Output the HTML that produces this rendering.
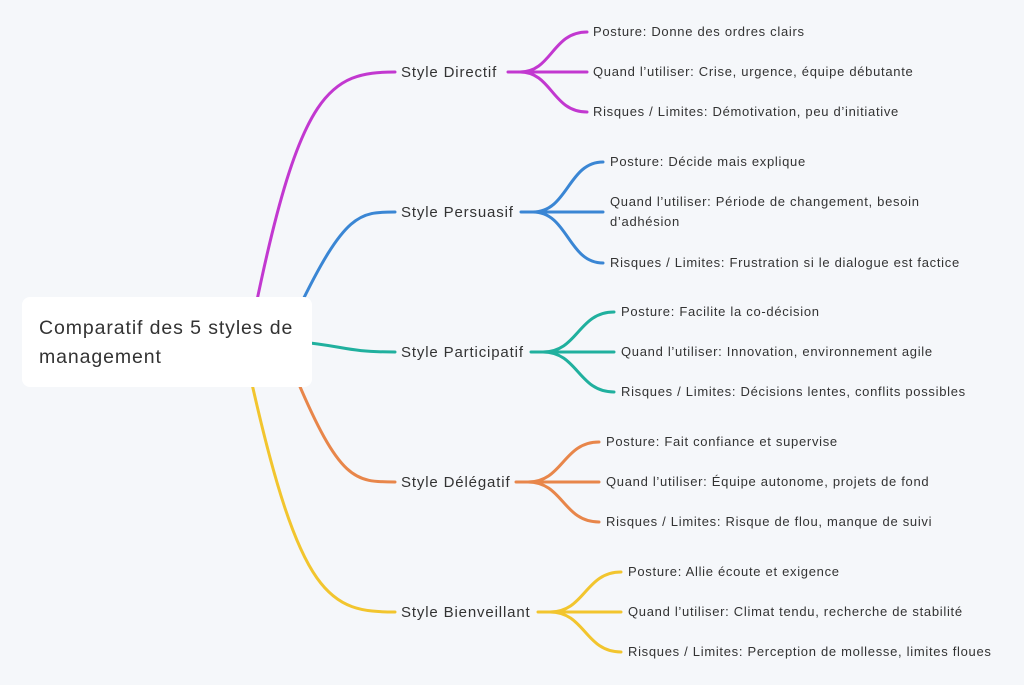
<!DOCTYPE html>
<html><head><meta charset="utf-8"><style>
html,body{margin:0;padding:0;background:#f5f7fa;}
body{width:1024px;height:685px;position:relative;overflow:hidden;font-family:"Liberation Sans","DejaVu Sans",sans-serif;color:#333;}
svg{position:absolute;left:0;top:0;}
.root{position:absolute;left:22px;top:297px;width:290px;height:90px;background:#fff;border-radius:8px;box-sizing:border-box;padding:17px 0 0 17px;font-size:19.5px;letter-spacing:0.9px;line-height:29px;color:#333;}
</style></head><body>
<svg width="1024" height="685" viewBox="0 0 1024 685" fill="none" stroke-width="3" stroke-linecap="round">
<g stroke="#c238d0">
<path d="M255,310 C300,90 330,72 395,72"/>
<path d="M508,72 L520,72 C552,72 552,32 587,32"/>
<path d="M520,72 L587,72"/>
<path d="M520,72 C552,72 552,112 587,112"/>
</g>
<g stroke="#3a86d4">
<path d="M298,310 C345,212 360,212 395,212"/>
<path d="M521,212 L533,212 C568,212 568,162 603,162"/>
<path d="M533,212 L603,212"/>
<path d="M533,212 C568,212 568,263 603,263"/>
</g>
<g stroke="#20b09e">
<path d="M300,342 C345,346 345,352 395,352"/>
<path d="M531,352 L543,352 C578,352 578,312 614,312"/>
<path d="M543,352 L614,352"/>
<path d="M543,352 C578,352 578,392 614,392"/>
</g>
<g stroke="#e8864a">
<path d="M295,375 C340,482 355,482 395,482"/>
<path d="M516,482 L528,482 C563,482 563,442 599,442"/>
<path d="M528,482 L599,482"/>
<path d="M528,482 C563,482 563,522 599,522"/>
</g>
<g stroke="#f2c52e">
<path d="M250,375 C300,600 330,612 395,612"/>
<path d="M538,612 L550,612 C585,612 585,572 621,572"/>
<path d="M550,612 L621,612"/>
<path d="M550,612 C585,612 585,652 621,652"/>
</g>
<g fill="#333" stroke="none" font-family="Liberation Sans, DejaVu Sans, sans-serif">
<g font-size="15" letter-spacing="0.85">
<text x="401" y="77">Style Directif</text>
<text x="401" y="217">Style Persuasif</text>
<text x="401" y="357">Style Participatif</text>
<text x="401" y="487">Style Délégatif</text>
<text x="401" y="617">Style Bienveillant</text>
</g>
<g font-size="13" letter-spacing="0.7">
<text x="593" y="36">Posture: Donne des ordres clairs</text>
<text x="593" y="76">Quand l’utiliser: Crise, urgence, équipe débutante</text>
<text x="593" y="116">Risques / Limites: Démotivation, peu d’initiative</text>
<text x="610" y="166">Posture: Décide mais explique</text>
<text x="610" y="206">Quand l’utiliser: Période de changement, besoin</text>
<text x="610" y="226">d’adhésion</text>
<text x="610" y="267">Risques / Limites: Frustration si le dialogue est factice</text>
<text x="621" y="316">Posture: Facilite la co-décision</text>
<text x="621" y="356">Quand l’utiliser: Innovation, environnement agile</text>
<text x="621" y="396">Risques / Limites: Décisions lentes, conflits possibles</text>
<text x="606" y="446">Posture: Fait confiance et supervise</text>
<text x="606" y="486">Quand l’utiliser: Équipe autonome, projets de fond</text>
<text x="606" y="526">Risques / Limites: Risque de flou, manque de suivi</text>
<text x="628" y="576">Posture: Allie écoute et exigence</text>
<text x="628" y="616">Quand l’utiliser: Climat tendu, recherche de stabilité</text>
<text x="628" y="656">Risques / Limites: Perception de mollesse, limites floues</text>
</g>
</g>
</svg>
<div class="root">Comparatif des 5 styles de<br>management</div>
</body></html>
